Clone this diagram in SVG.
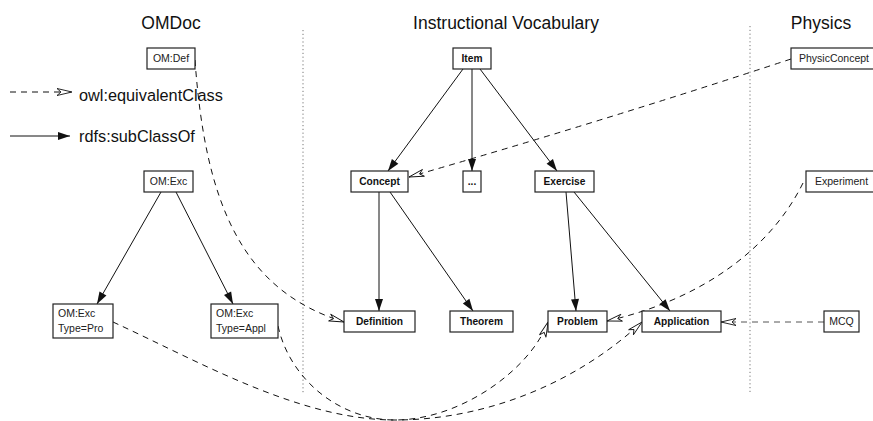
<svg xmlns="http://www.w3.org/2000/svg" width="873" height="421" viewBox="0 0 873 421">
<style>
.title{font-family:"Liberation Sans",Arial,sans-serif;font-size:17.5px;fill:#111}
.leg{font-family:"Liberation Sans",Arial,sans-serif;font-size:16.3px;fill:#111}
.box{fill:#fff;stroke:#222;stroke-width:1.2}
.b{font-family:"Liberation Sans",Arial,sans-serif;font-size:10.2px;font-weight:bold;fill:#111;text-anchor:middle}
.r{font-family:"Liberation Sans",Arial,sans-serif;font-size:10.5px;fill:#222}
.rc{text-anchor:middle}
.sub{fill:none;stroke:#111;stroke-width:1;marker-end:url(#fill)}
.eq{fill:none;stroke:#111;stroke-width:1;stroke-dasharray:6 5;marker-end:url(#open)}
.dot{fill:none;stroke:#777;stroke-width:1;stroke-dasharray:1.2 2.6}
</style>
<defs>
<marker id="fill" markerUnits="userSpaceOnUse" markerWidth="12" markerHeight="8" refX="12" refY="4" orient="auto" overflow="visible">
<path d="M0,0 L12,4 L0,8 Z" fill="#111" stroke="none"/>
</marker>
<marker id="open" markerUnits="userSpaceOnUse" markerWidth="15" markerHeight="7" refX="15" refY="3.5" orient="auto" overflow="visible">
<path d="M0,0 L15,3.5 L0,7 L4,3.5 Z" fill="#fff" stroke="#111" stroke-width="0.9" stroke-dasharray="none"/>
</marker>
</defs>

<text class="title" x="171" y="29" text-anchor="middle">OMDoc</text>
<text class="title" x="506" y="29" text-anchor="middle">Instructional Vocabulary</text>
<text class="title" x="821" y="29" text-anchor="middle">Physics</text>

<path class="dot" d="M303,30 L303,393"/>
<path class="dot" d="M750,26 L750,393"/>

<g id="legend">
<path class="eq" d="M10,92 L72,92"/>
<text class="leg" x="79" y="101">owl:equivalentClass</text>
<path class="sub" d="M10,136 L70,136"/>
<text class="leg" x="79" y="142">rdfs:subClassOf</text>
</g>

<g id="connectors">
<path class="sub" d="M463,69 L388,171"/>
<path class="sub" d="M472,69 L472,171"/>
<path class="sub" d="M480,69 L557,171"/>
<path class="sub" d="M379,192 L379,311"/>
<path class="sub" d="M390,192 L473,311"/>
<path class="sub" d="M566,192 L576,311"/>
<path class="sub" d="M574,192 L670,311"/>
<path class="sub" d="M161,192 L97,304"/>
<path class="sub" d="M176,192 L233,304"/>
<path class="eq" d="M195,60 C205,200 240,290 344,322"/>
<path class="eq" d="M791,59 Q600,122 409,177"/>
<path class="eq" d="M803,183 C770,250 700,300 607,321"/>
<path class="eq" style="stroke:#555" d="M824,322 L721,322"/>
<path class="eq" d="M113,322 C200,362 300,420 395,420 C490,420 580,380 642,322"/>
<path class="eq" d="M278,326 C290,380 340,420 395,420 C460,420 530,370 548,322"/>
</g>

<g id="om-def"><rect class="box" x="147" y="48" width="48" height="21"/><text class="r rc" x="171" y="62">OM:Def</text></g>
<g id="om-exc"><rect class="box" x="144" y="171" width="49" height="21"/><text class="r rc" x="168.5" y="185">OM:Exc</text></g>
<g id="om-exc-pro"><rect class="box" x="53" y="304" width="60" height="34"/><text class="r" x="58" y="317">OM:Exc</text><text class="r" x="58" y="332">Type=Pro</text></g>
<g id="om-exc-appl"><rect class="box" x="211" y="304" width="67" height="34"/><text class="r" x="216" y="317">OM:Exc</text><text class="r" x="216" y="332">Type=Appl</text></g>

<g id="item"><rect class="box" x="453" y="48" width="38" height="21"/><text class="b" x="472" y="62">Item</text></g>
<g id="concept"><rect class="box" x="351" y="171" width="57" height="21"/><text class="b" x="379.5" y="185">Concept</text></g>
<g id="dots"><rect class="box" x="463" y="171" width="18" height="21"/><text class="b" x="472" y="185">...</text></g>
<g id="exercise"><rect class="box" x="535" y="171" width="59" height="21"/><text class="b" x="564.5" y="185">Exercise</text></g>
<g id="definition"><rect class="box" x="344" y="311" width="71" height="21"/><text class="b" x="379.5" y="325">Definition</text></g>
<g id="theorem"><rect class="box" x="450" y="311" width="63" height="21"/><text class="b" x="481.5" y="325">Theorem</text></g>
<g id="problem"><rect class="box" x="548" y="311" width="59" height="21"/><text class="b" x="577.5" y="325">Problem</text></g>
<g id="application"><rect class="box" x="642" y="311" width="79" height="21"/><text class="b" x="681.5" y="325">Application</text></g>

<g id="physicconcept"><rect class="box" x="791" y="48" width="90" height="21"/><text class="r" x="799" y="62">PhysicConcept</text></g>
<g id="experiment"><rect class="box" x="806" y="171" width="80" height="21"/><text class="r" x="815" y="185">Experiment</text></g>
<g id="mcq"><rect class="box" x="824" y="311" width="35" height="21"/><text class="r rc" x="841.5" y="325">MCQ</text></g>
</svg>
